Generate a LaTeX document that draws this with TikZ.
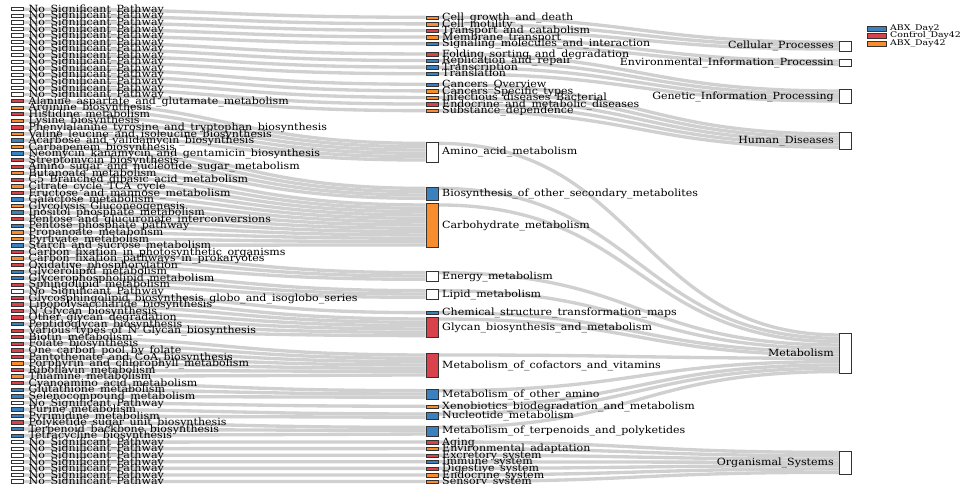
\documentclass[tikz,border=0pt]{standalone}
\usepackage{fontspec}
\setmainfont{DejaVu Serif}
\usetikzlibrary{backgrounds}
\definecolor{cb}{HTML}{3C80BD}
\definecolor{cr}{HTML}{D9414B}
\definecolor{co}{HTML}{F78D2C}
\definecolor{cw}{HTML}{FFFFFF}
\definecolor{lk}{HTML}{D0D0D0}
\definecolor{bd}{HTML}{333333}
\newcommand\sx[1]{\scalebox{1.15}[1.03]{#1}}
\newcommand\ns{No\_Significant\_Pathway}
\def\midlist{1/co/15.6/1/1/0/Cell\_growth\_and\_death,
2/co/22.2/1/1/1/Cell\_motility,
3/cr/28.8/1/1/2/Transport\_and\_catabolism,
4/co/35.4/1/2/0/Membrane\_transport,
5/cb/42.0/1/2/1/Signaling\_molecules\_and\_interaction,
6/cr/52.3/1/3/0/Folding\_sorting\_and\_degradation,
7/cb/58.9/1/3/1/Replication\_and\_repair,
8/cb/65.5/1/3/2/Transcription,
9/cb/72.1/1/3/3/Translation,
10/cb/82.6/1/4/0/Cancers\_Overview,
11/co/89.2/1/4/1/Cancers\_Specific\_types,
12/co/95.8/1/4/2/Infectious\_diseases\_Bacterial,
13/cr/102.4/1/4/3/Endocrine\_and\_metabolic\_diseases,
14/co/109.0/1/4/4/Substance\_dependence,
15/cw/141.7/6/5/0/Amino\_acid\_metabolism,
16/cb/186.7/4/5/1/Biosynthesis\_of\_other\_secondary\_metabolites,
17/co/203.3/13/5/2/Carbohydrate\_metabolism,
18/cw/271/3/5/3/Energy\_metabolism,
19/cw/289/3/5/4/Lipid\_metabolism,
20/cb/311/1/5/5/Chemical\_structure\_transformation\_maps,
21/cr/317.3/6/5/6/Glycan\_biosynthesis\_and\_metabolism,
22/cr/353.3/7/5/7/Metabolism\_of\_cofactors\_and\_vitamins,
23/cb/389/3/5/8/Metabolism\_of\_other\_amino,
24/co/404.6/1/5/9/Xenobiotics\_biodegradation\_and\_metabolism,
25/cb/412.3/2/5/10/Nucleotide\_metabolism,
26/cb/425.7/3/5/11/Metabolism\_of\_terpenoids\_and\_polyketides,
27/cr/440.3/1/6/0/Aging,
28/co/446.9/1/6/1/Environmental\_adaptation,
29/cr/453.5/1/6/2/Excretory\_system,
30/cb/460.1/1/6/3/Immune\_system,
31/cr/466.7/1/6/4/Digestive\_system,
32/co/473.3/1/6/5/Endocrine\_system,
33/co/479.9/1/6/6/Sensory\_system}
\def\leftlist{0/cw/1/0/\ns,1/cw/2/0/\ns,2/cw/3/0/\ns,3/cw/4/0/\ns,4/cw/5/0/\ns,
5/cw/6/0/\ns,6/cw/7/0/\ns,7/cw/8/0/\ns,8/cw/9/0/\ns,9/cw/10/0/\ns,10/cw/11/0/\ns,
11/cw/12/0/\ns,12/cw/13/0/\ns,13/cw/14/0/\ns,
14/cr/15/0/Alanine\_aspartate\_and\_glutamate\_metabolism,
15/co/15/1/Arginine\_biosynthesis,
16/cr/15/2/Histidine\_metabolism,
17/co/15/3/Lysine\_biosynthesis,
18/cr/15/4/Phenylalanine\_tyrosine\_and\_tryptophan\_biosynthesis,
19/co/15/5/Valine\_leucine\_and\_isoleucine\_biosynthesis,
20/cb/16/0/Acarbose\_and\_validamycin\_biosynthesis,
21/co/16/1/Carbapenem\_biosynthesis,
22/cb/16/2/Neomycin\_kanamycin\_and\_gentamicin\_biosynthesis,
23/cr/16/3/Streptomycin\_biosynthesis,
24/cr/17/0/Amino\_sugar\_and\_nucleotide\_sugar\_metabolism,
25/co/17/1/Butanoate\_metabolism,
26/cr/17/2/C5\_Branched\_dibasic\_acid\_metabolism,
27/co/17/3/Citrate\_cycle\_TCA\_cycle,
28/cr/17/4/Fructose\_and\_mannose\_metabolism,
29/cb/17/5/Galactose\_metabolism,
30/co/17/6/Glycolysis\_Gluconeogenesis,
31/cb/17/7/Inositol\_phosphate\_metabolism,
32/cr/17/8/Pentose\_and\_glucuronate\_interconversions,
33/cb/17/9/Pentose\_phosphate\_pathway,
34/co/17/10/Propanoate\_metabolism,
35/co/17/11/Pyruvate\_metabolism,
36/cb/17/12/Starch\_and\_sucrose\_metabolism,
37/cr/18/0/Carbon\_fixation\_in\_photosynthetic\_organisms,
38/co/18/1/Carbon\_fixation\_pathways\_in\_prokaryotes,
39/cr/18/2/Oxidative\_phosphorylation,
40/cb/19/0/Glycerolipid\_metabolism,
41/cb/19/1/Glycerophospholipid\_metabolism,
42/cr/19/2/Sphingolipid\_metabolism,
43/cw/20/0/\ns,
44/cr/21/0/Glycosphingolipid\_biosynthesis\_globo\_and\_isoglobo\_series,
45/cr/21/1/Lipopolysaccharide\_biosynthesis,
46/cr/21/2/N\_Glycan\_biosynthesis,
47/cr/21/3/Other\_glycan\_degradation,
48/cb/21/4/Peptidoglycan\_biosynthesis,
49/cr/21/5/Various\_types\_of\_N\_Glycan\_biosynthesis,
50/cr/22/0/Biotin\_metabolism,
51/cr/22/1/Folate\_biosynthesis,
52/cr/22/2/One\_carbon\_pool\_by\_folate,
53/cr/22/3/Pantothenate\_and\_CoA\_biosynthesis,
54/co/22/4/Porphyrin\_and\_chlorophyll\_metabolism,
55/cr/22/5/Riboflavin\_metabolism,
56/co/22/6/Thiamine\_metabolism,
57/cr/23/0/Cyanoamino\_acid\_metabolism,
58/cb/23/1/Glutathione\_metabolism,
59/cb/23/2/Selenocompound\_metabolism,
60/cw/24/0/\ns,
61/cb/25/0/Purine\_metabolism,
62/cb/25/1/Pyrimidine\_metabolism,
63/cr/26/0/Polyketide\_sugar\_unit\_biosynthesis,
64/cb/26/1/Terpenoid\_backbone\_biosynthesis,
65/cb/26/2/Tetracycline\_biosynthesis,
66/cw/27/0/\ns,67/cw/28/0/\ns,68/cw/29/0/\ns,69/cw/30/0/\ns,
70/cw/31/0/\ns,71/cw/32/0/\ns,72/cw/33/0/\ns}
\begin{document}
\begin{tikzpicture}[x=1pt,y=-1pt,
 box/.style={draw=bd, line width=0.8pt, inner sep=0pt, minimum width=12pt},
 lab/.style={inner sep=0pt, font=\fontsize{9.6}{9.6}\selectfont, text=black},
 link/.style={draw=lk, line width=3.33pt},
]
\useasboundingbox (0,0) rectangle (960,484);
% right nodes
\foreach \r/\tp/\n/\t in {1/40.7/3/Cellular\_Processes,
 2/59.3/2/Environmental\_Information\_Processin,
 3/89.3/4/Genetic\_Information\_Processing,
 4/132.3/5/Human\_Diseases,
 5/333.3/12/Metabolism,
 6/450.7/7/Organismal\_Systems}{
 \node[box, fill=white, anchor=north west, minimum height=\n*3.33pt] (R\r) at (839,\tp) {};
 \node[lab, anchor=base east] (RT\r) at (834,{\tp+\n*1.665+3.2}) {\sx{\t}};
}
% middle nodes
\foreach \m/\c/\tp/\n/\r/\s/\t in \midlist {
 \node[box, fill=\c, anchor=north west, minimum height=\n*3.33pt] (M\m) at (425.5,\tp) {};
 \node[lab, anchor=base west] (MT\m) at (442,{\tp+\n*1.665+3.2}) {\sx{\t}};
}
% left nodes and links
\foreach \i/\c/\m/\s/\t in \leftlist {
 \node[box, fill=\c, anchor=west, minimum height=3.33pt] (L\i) at (11,{9.2+6.56*\i}) {};
 \node[lab, anchor=base west] (LT\i) at (28.5,{9.2+6.56*\i+3.2}) {\sx{\t}};
 \begin{pgfonlayer}{background}
 \draw[link] (L\i.east) .. controls +(201,0) and +(-201,0) .. ([yshift=-\s*3.33pt-1.665pt]M\m.north west);
 \end{pgfonlayer}
}
% middle to right links
\begin{scope}[on background layer]
\foreach \m/\c/\tp/\n/\r/\s/\t in \midlist {
 \draw[link] ([yshift=-1.665pt]M\m.north east) .. controls +(201,0) and +(-201,0) .. ([yshift=-\s*3.33pt-1.665pt]R\r.north west);
}
\end{scope}
% legend
\foreach \k/\c/\y/\t in {1/cb/25.7/ABX\_Day2, 2/cr/33/Control\_Day42, 3/co/40.7/ABX\_Day42}{
 \node[box, fill=\c, anchor=north west, minimum width=19pt, minimum height=5.3pt] (K\k) at (867,\y) {};
 \node[inner sep=0pt, anchor=west, font=\fontsize{7.8}{7.8}\selectfont, text=black] (KT\k) at (890,{\y+2.65}) {\scalebox{1.2}[1]{\t}};
}
\end{tikzpicture}
\end{document}
